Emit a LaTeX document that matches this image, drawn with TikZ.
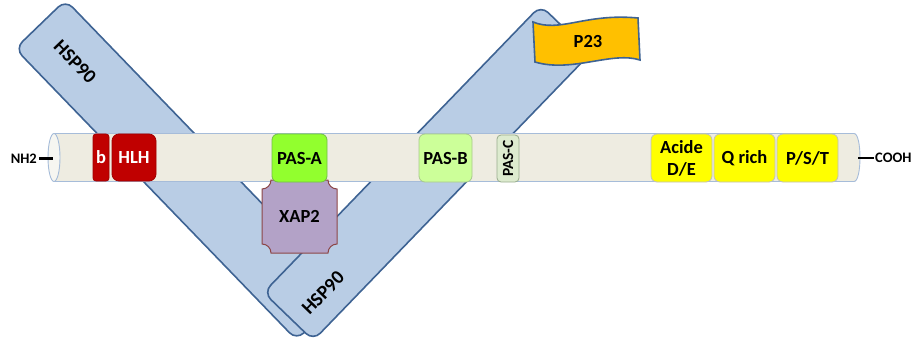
\documentclass[tikz,border=0pt]{standalone}
\usepackage{fontspec}
\setmainfont{Carlito}
\definecolor{barfill}{HTML}{B9CDE5}
\definecolor{barline}{HTML}{3E6393}
\definecolor{tubefill}{HTML}{EEECE1}
\definecolor{tubeline}{HTML}{A6BCD9}
\definecolor{tubeend}{HTML}{F6F6F1}
\definecolor{bhlh}{HTML}{C00000}
\definecolor{bhlhline}{HTML}{A00000}
\definecolor{pasa}{HTML}{92FF2E}
\definecolor{pasaline}{HTML}{72BE45}
\definecolor{pasb}{HTML}{CCFF99}
\definecolor{pasbline}{HTML}{A8C98C}
\definecolor{pasc}{HTML}{DDEBCF}
\definecolor{pascline}{HTML}{98AC8C}
\definecolor{yel}{HTML}{FFFF00}
\definecolor{yelline}{HTML}{BFBFBF}
\definecolor{xapfill}{HTML}{B3A2C7}
\definecolor{xapline}{HTML}{8C4646}
\definecolor{pfill}{HTML}{FFC000}
\begin{document}
\begin{tikzpicture}[x=1pt,y=-1pt,
  lbl/.style={font=\bfseries\fontsize{18.5}{21}\selectfont, text=black, inner sep=0pt},
  hsplbl/.style={font=\bfseries\fontsize{19.5}{22}\selectfont, text=black, inner sep=0pt},
  endlbl/.style={font=\bfseries\fontsize{14.5}{16}\selectfont, text=black, inner sep=0pt},
  bar/.style={draw=barline, fill=barfill, line width=1.6pt, rounded corners=10pt, inner sep=0pt},
  dom/.style={draw, line width=0.8pt, rounded corners=6pt, inner sep=0pt, minimum height=48pt,
              font=\bfseries\fontsize{18.5}{21}\selectfont, align=center},
  tube/.style={draw=tubeline, fill=tubefill, line width=0.9pt},
  endline/.style={line width=2.6pt, black},
]
\useasboundingbox (0,0) rectangle (913,342);

% HSP90 bars
\node[bar, minimum width=405pt, minimum height=70pt, rotate=-46] (hspL) at (181,170) {};
\node[bar, minimum width=399pt, minimum height=69pt, rotate=46] (hspR) at (427,173) {};
\node[hsplbl, rotate=-46] (hspLt) at (75,62) {HSP90};
\node[hsplbl, rotate=46] (hspRt) at (323,293) {HSP90};

% tube
\draw[tube] (54,133.5) -- (854,133.5) .. controls (862,133.5) and (862,181.5) .. (854,181.5) -- (54,181.5) -- cycle;
\draw[tube, fill=tubeend] (54,157.5) ellipse [x radius=6pt, y radius=24pt];
\coordinate (tubeL) at (53,158.5);
\coordinate (tubeR) at (858,158);

% XAP2
\draw[fill=xapfill, draw=xapline, line width=1pt]
  (271,180) -- (328,180) .. controls (328,185) and (332,189) .. (337,189)
  -- (337,244) .. controls (332,244) and (328,248) .. (328,253)
  -- (271,253) .. controls (271,248) and (267,244) .. (262,244)
  -- (262,189) .. controls (267,189) and (271,185) .. (271,180) -- cycle;
\node[lbl] (xap) at (299.5,216.5) {XAP2};

% domains
\node[dom, draw=bhlhline, fill=bhlh, text=white, minimum width=16pt, minimum height=47pt, rounded corners=3pt] (b) at (101,157.5) {b};
\node[dom, draw=bhlhline, fill=bhlh, text=white, minimum width=44pt, minimum height=47pt, rounded corners=7pt] (hlh) at (134,157.5) {HLH};
\node[dom, draw=pasaline, fill=pasa, minimum width=55pt] (pasA) at (299.5,158) {PAS-A};
\node[dom, draw=pasbline, fill=pasb, minimum width=53pt] (pasB) at (445.5,158) {PAS-B};
\node[dom, draw=pascline, fill=pasc, rotate=90, minimum width=47pt, minimum height=22pt,
      rounded corners=4pt, font=\bfseries\fontsize{15.5}{17}\selectfont] (pasC) at (508,158.5) {PAS-C};
\node[dom, draw=yelline, fill=yel, minimum width=61pt, font=\bfseries\fontsize{18.5}{22}\selectfont] (acide) at (681.5,158) {Acide\\D/E};
\node[dom, draw=yelline, fill=yel, minimum width=61pt] (qrich) at (744.5,158) {Q rich};
\node[dom, draw=yelline, fill=yel, minimum width=61pt] (pst) at (807.5,158) {P/S/T};

% P23
\draw[fill=pfill, draw=barline, line width=1.6pt]
  (533,22) .. controls (560,33) and (585,13) .. (638,18)
  -- (640,60) .. controls (612,51) and (572,73) .. (535,62) -- cycle;
\node[lbl] (p23) at (588,41) {P23};

% termini
\node[endlbl, anchor=east] (nh2) at (37,158.5) {NH2};
\node[endlbl, anchor=west] (cooh) at (875,158) {COOH};
\draw[endline] (nh2.east) ++(2,0) -- (tubeL);
\draw[endline] (tubeR) -- ([xshift=-1pt]cooh.west);
\end{tikzpicture}
\end{document}
